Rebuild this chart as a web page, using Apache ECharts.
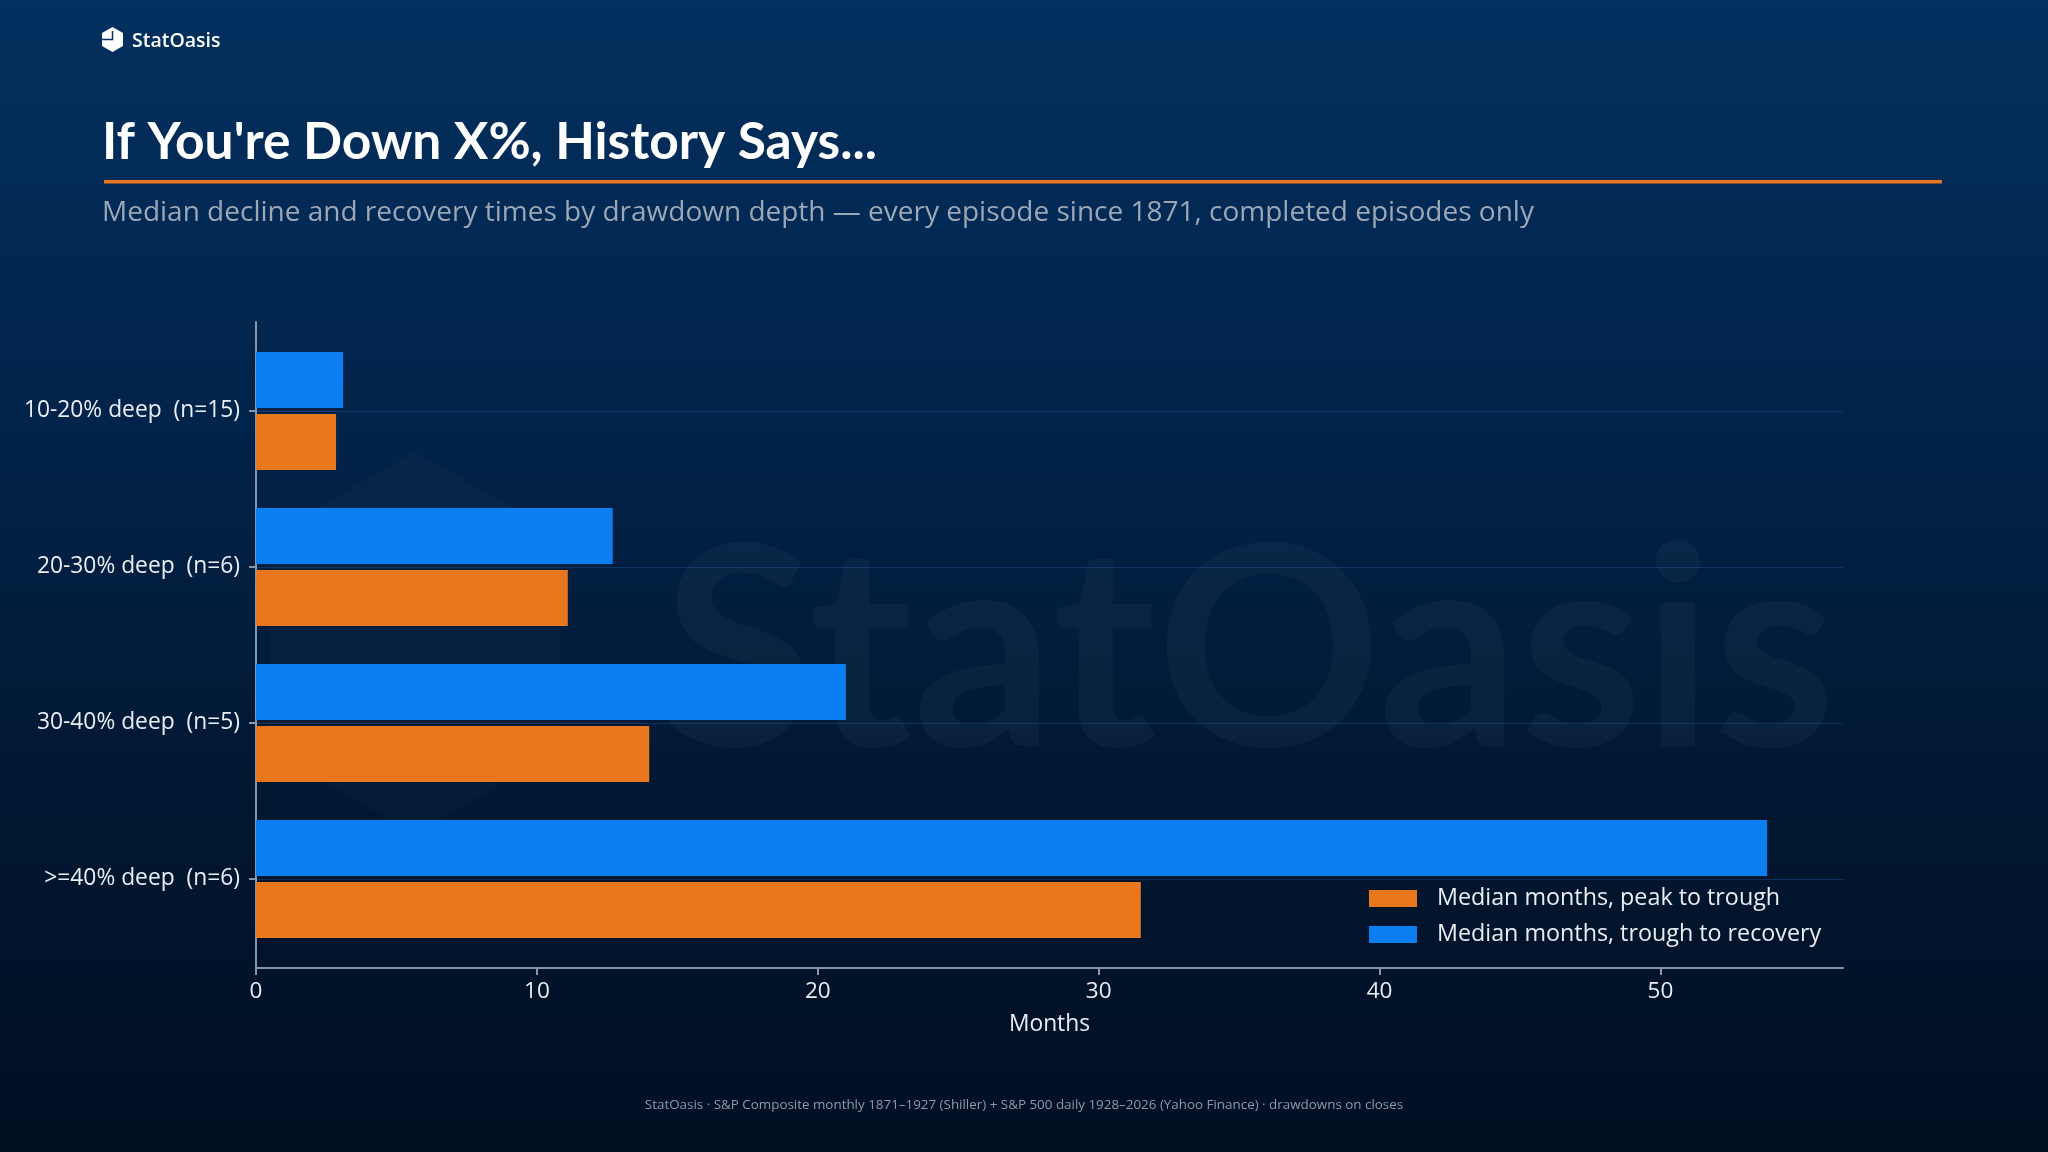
<!DOCTYPE html>
<html>
<head>
<meta charset="utf-8">
<title>If You're Down X%, History Says...</title>
<script src="https://cdn.jsdelivr.net/npm/echarts@6/dist/echarts.min.js"></script>
<style>
  html, body { margin: 0; padding: 0; background: #011226; }
  #chart { width: 2048px; height: 1152px; }
</style>
</head>
<body>
<div id="chart"></div>
<script>
// data
let categories = ['10-20% deep  (n=15)', '20-30% deep  (n=6)', '30-40% deep  (n=5)', '>=40% deep  (n=6)']
let peakToTrough = [2.85, 11.1, 14.0, 31.5]
let troughToRecovery = [3.1, 12.7, 21.0, 53.8]
let seriesNames = ['Median months, peak to trough', 'Median months, trough to recovery']
let xTicks = [0, 10, 20, 30, 40, 50]
let xMax = 56.5

let font = "'Open Sans'"
let titleFont = 'Lato'
let orange = '#e8771e'
let blue = '#0b7ff2'
let axisGrey = '#8b95a7'
let labelColor = '#e9eef5'

function setOption (chart) {
  let option = {
    animation: false,
    textStyle: { fontFamily: font },
    title: [{
      text: "If You're Down X%, History Says...",
      left: 102, top: 116, padding: 0,
      textStyle: { color: '#ffffff', fontSize: 51.5, fontWeight: 'bold', lineHeight: 52, fontFamily: titleFont }
    }, {
      text: 'Median decline and recovery times by drawdown depth — every episode since 1871, completed episodes only',
      left: 102, top: 199, padding: 0,
      textStyle: { color: '#9ba6b6', fontSize: 28, fontWeight: 'normal', lineHeight: 28, fontFamily: font }
    }, {
      text: 'StatOasis · S&P Composite monthly 1871–1927 (Shiller) + S&P 500 daily 1928–2026 (Yahoo Finance) · drawdowns on closes',
      left: 'center', top: 1098, padding: 0,
      textStyle: { color: '#8e99aa', fontSize: 13.4, fontWeight: 'normal', lineHeight: 14, fontFamily: font }
    }, {
      text: 'StatOasis',
      left: 132, top: 31, padding: 0,
      textStyle: { color: '#ffffff', fontSize: 19.5, fontWeight: 600, lineHeight: 20, fontFamily: font }
    }],
    graphic: [{
      type: 'rect', z: -10, silent: true,
      shape: { x: 0, y: 0, width: 2048, height: 1152 },
      style: {
        fill: new echarts.graphic.LinearGradient(0, 0, 0, 1, [
          { offset: 0, color: '#03305f' },
          { offset: 0.35, color: '#02244b' },
          { offset: 0.7, color: '#011731' },
          { offset: 1, color: '#010f22' }
        ])
      }
    }, {
      // faint watermark
      type: 'text', z: -5, silent: true,
      style: { text: 'StatOasis', x: 662, y: 656, verticalAlign: 'middle', font: 'bold 279px Lato', fill: 'rgba(255,255,255,0.035)' }
    }, {
      type: 'polygon', z: -5, silent: true,
      shape: { points: [[415, 452], [560, 535], [560, 750], [415, 835], [270, 750], [270, 535]] },
      style: { fill: 'rgba(255,255,255,0.02)' }
    }, {
      type: 'rect', silent: true,
      shape: { x: 104, y: 180, width: 1838, height: 3.5 },
      style: { fill: orange }
    }, {
      type: 'polygon', silent: true,
      shape: { points: [[112.5, 27], [123, 33], [123, 46], [112.5, 52], [102, 46], [102, 33]] },
      style: { fill: '#ffffff' }
    }, {
      type: 'polyline', silent: true,
      shape: { points: [[102, 39.5], [112.5, 39.5], [112.5, 31]] },
      style: { stroke: '#03305f', lineWidth: 1.5, fill: null }
    }],
    legend: {
      data: [seriesNames[0], seriesNames[1]],
      orient: 'vertical',
      left: 1369, top: 887, padding: 0,
      icon: 'rect', itemWidth: 48, itemHeight: 17, itemGap: 13,
      textStyle: { color: labelColor, fontSize: 23.3, lineHeight: 23, padding: [0, 0, 0, 15], fontFamily: font }
    },
    grid: [
      { left: 256, right: 205, top: 411, height: 468 },
      { left: 256, right: 205, top: 322, bottom: 184 }
    ],
    xAxis: [{
      type: 'value', gridIndex: 0, min: 0, max: xMax, show: false
    }, {
      type: 'value', gridIndex: 1, min: 0, max: xMax,
      axisLine: { show: true, onZero: false, lineStyle: { color: axisGrey, width: 2 } },
      axisTick: { show: true, length: 7, customValues: xTicks, lineStyle: { color: axisGrey, width: 2 } },
      axisLabel: { color: labelColor, fontSize: 22.5, margin: 12, customValues: xTicks, fontFamily: font },
      splitLine: { show: false },
      name: 'Months', nameLocation: 'middle', nameGap: 45,
      nameTextStyle: { color: labelColor, fontSize: 22.8, fontFamily: font }
    }],
    yAxis: [{
      type: 'category', gridIndex: 0, data: categories, inverse: true, boundaryGap: false,
      axisLine: { show: false },
      axisTick: { show: true, length: 7, lineStyle: { color: axisGrey, width: 2 } },
      axisLabel: { color: labelColor, fontSize: 22.8, margin: 16, fontFamily: font, padding: [6, 0, 0, 0] },
      splitLine: { show: true, lineStyle: { color: 'rgba(40,100,170,0.35)', width: 1 } }
    }, {
      type: 'value', gridIndex: 1,
      axisLine: { show: true, onZero: false, lineStyle: { color: axisGrey, width: 2 } },
      axisTick: { show: false },
      axisLabel: { show: false },
      splitLine: { show: false }
    }],
    series: [{
      name: seriesNames[1],
      type: 'bar',
      xAxisIndex: 0, yAxisIndex: 0,
      data: troughToRecovery,
      barWidth: 56, barGap: '10.7%',
      clip: false,
      itemStyle: { color: blue }
    }, {
      name: seriesNames[0],
      type: 'bar',
      xAxisIndex: 0, yAxisIndex: 0,
      data: peakToTrough,
      barWidth: 56, barGap: '10.7%',
      clip: false,
      itemStyle: { color: orange }
    }]
  }
  chart.setOption(option)
}

let chart = echarts.init(document.getElementById('chart'), null, { width: 2048, height: 1152 })
setOption(chart)
</script>
</body>
</html>
